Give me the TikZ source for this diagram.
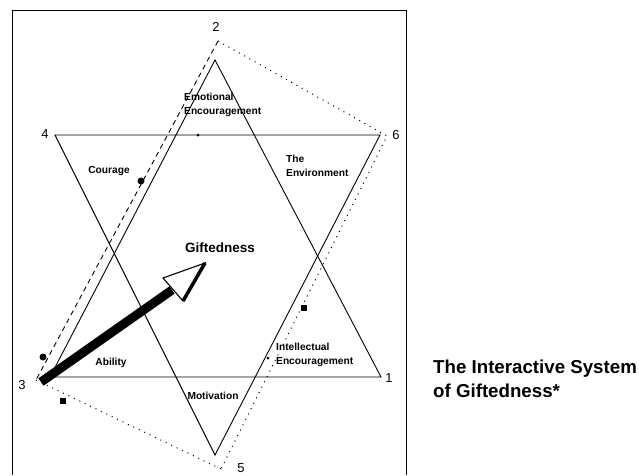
\documentclass[tikz,border=0pt]{standalone}
\usepackage{fontspec}
\setmainfont{Liberation Serif}
\setsansfont{Liberation Sans}
\begin{document}
\begin{tikzpicture}[x=1pt,y=-1pt,
  tri/.style={line width=0.9pt, line join=miter},
  lbl/.style={font=\sffamily\bfseries\fontsize{10.2}{14.5}\selectfont, inner sep=0pt, align=left},
  num/.style={font=\fontsize{13}{13}\selectfont\sffamily, inner sep=0pt},
  dashedge/.style={line width=0.9pt, dash pattern=on 5pt off 4pt},
  dotedge/.style={line width=1pt, dash pattern=on 1pt off 5pt},
  marker/.style={fill=black, inner sep=0pt, minimum size=6pt},
  captext/.style={font=\sffamily\bfseries\fontsize{18.7}{23.5}\selectfont, inner sep=0pt, align=left, anchor=base west}]
\useasboundingbox (0,0) rectangle (639,475);
% frame
\draw[line width=0.9pt] (12,475) -- (12,10) -- (406,10) -- (406,475);
% upward triangle
\coordinate (ua) at (215,60);
\coordinate (ul) at (50,377);
\coordinate (ur) at (381,377);
\draw[tri] (ua) -- (ul) -- (ur) -- cycle;
% downward triangle
\coordinate (dl) at (55,135);
\coordinate (dr) at (380,135);
\coordinate (db) at (215,455);
\draw[tri] (dl) -- (dr) -- (db) -- cycle;
% outer quadrilateral
\coordinate (p2) at (218,41);
\coordinate (p3) at (36,380);
\coordinate (p6) at (387,136);
\coordinate (p5) at (221,469);
\draw[dashedge] (p2) -- (p3);
\draw[dotedge] (p2) -- (p6) -- (p5);
\draw[dotedge] (p3) -- (p5);
% markers
\node[marker, circle, minimum size=7pt] (m1) at (141,181) {};
\node[marker, circle, minimum size=7pt] (m2) at (43,357) {};
\node[marker] (m3) at (63,401) {};
\node[marker] (m4) at (304,308) {};
\node[fill=black, circle, inner sep=0pt, minimum size=3pt] (m5) at (198,135) {};
\node[fill=black, circle, inner sep=0pt, minimum size=3pt] (m6) at (268,358) {};
% numbers
\node[num] (n2) at (216,27) {2};
\node[num] (n4) at (45,134) {4};
\node[num] (n6) at (396,135) {6};
\node[num] (n3) at (22,385) {3};
\node[num] (n1) at (389,378) {1};
\node[num] (n5) at (241,468) {5};
% labels
\node[lbl, anchor=west] (emo) at (184,105) {Emotional\\Encouragement};
\node[lbl] (cou) at (109,171) {Courage};
\node[lbl, anchor=west] (env) at (286,166) {The\\Environment};
\node[font=\sffamily\bfseries\fontsize{13.5}{15}\selectfont, inner sep=0pt] (gift) at (220,248) {Giftedness};
\node[lbl] (abi) at (111,363) {Ability};
\node[lbl] (mot) at (213,396) {Motivation};
\node[lbl, anchor=west] (int) at (276,355) {Intellectual\\Encouragement};
% thick arrow
\coordinate (as) at (41,382);
\coordinate (ab) at (172,290);
\coordinate (ah1) at (163,278);
\coordinate (at) at (205,263);
\coordinate (ah2) at (183,301);
\draw[line width=9pt] (as) -- (ab);
\draw[fill=white, line width=1.1pt, line join=miter] (ah1) -- (at) -- (ah2) -- cycle;
\draw[line width=3.5pt] (at) -- (ah2);
% caption
\node[captext] (caption) at (433,397) {The Interactive System\\of Giftedness*};
\end{tikzpicture}
\end{document}
